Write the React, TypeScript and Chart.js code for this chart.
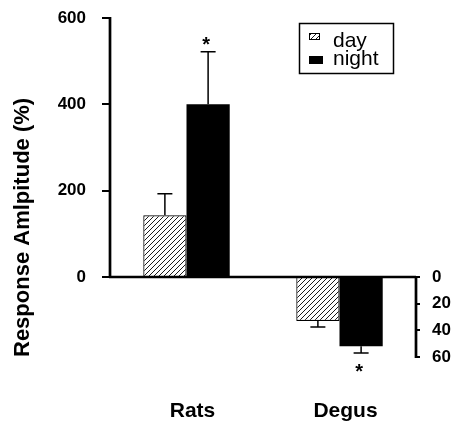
import React, { useEffect, useRef } from "react";
import { Chart, registerables } from "chart.js";

Chart.register(...registerables);

// ---- data ----
const categories = ["Rats", "Degus"];
const seriesNames = ["day", "night"];
const ratsMeans = [143, 400];
const ratsErrors = [50, 122];
const degusMeans = [33, 52];
const degusErrors = [4.5, 5];
const ratsSignificant = [false, true];
const degusSignificant = [false, true];
const leftTicks = [0, 200, 400, 600];
const rightTicks = [0, 20, 40, 60];
const leftMax = 600;
const leftMin = -185.3;
const rightMax = 60;
const yTitle = "Response Amlpitude (%)";

const FONT = "'Liberation Sans', Arial, Helvetica, sans-serif";

function makeHatch(ctx: CanvasRenderingContext2D) {
  const c = document.createElement("canvas");
  c.width = 5;
  c.height = 5;
  const g = c.getContext("2d")!;
  g.fillStyle = "#fff";
  g.fillRect(0, 0, 5, 5);
  g.strokeStyle = "#000";
  g.lineWidth = 0.9;
  g.beginPath();
  g.moveTo(-1, 6);
  g.lineTo(6, -1);
  g.moveTo(-1, 1);
  g.lineTo(1, -1);
  g.moveTo(4, 6);
  g.lineTo(6, 4);
  g.stroke();
  return ctx.createPattern(c, "repeat")!;
}

export default function App() {
  const ref = useRef<HTMLCanvasElement | null>(null);

  useEffect(() => {
    document.body.style.margin = "0";
    const canvas = ref.current!;
    const ctx = canvas.getContext("2d")!;
    const hatch = makeHatch(ctx);
    const rightMin = (rightMax * leftMax) / leftMin;

    const dayStyle = { backgroundColor: hatch, borderColor: "#000", borderWidth: 1.2 };
    const nightStyle = { backgroundColor: "#000", borderColor: "#000", borderWidth: 0 };

    const datasets: any[] = [
      { label: seriesNames[0], data: [ratsMeans[0], null], yAxisID: "y", errors: [ratsErrors[0], null], sig: [ratsSignificant[0], false], ...dayStyle },
      { label: seriesNames[1], data: [ratsMeans[1], null], yAxisID: "y", errors: [ratsErrors[1], null], sig: [ratsSignificant[1], false], ...nightStyle },
      { label: seriesNames[0], data: [null, degusMeans[0]], yAxisID: "y2", errors: [null, degusErrors[0]], sig: [false, degusSignificant[0]], ...dayStyle },
      { label: seriesNames[1], data: [null, degusMeans[1]], yAxisID: "y2", errors: [null, degusErrors[1]], sig: [false, degusSignificant[1]], ...nightStyle },
    ];

    const extras = {
      id: "extras",
      afterDatasetsDraw(chart: any) {
        const c = chart.ctx as CanvasRenderingContext2D;
        const area = chart.chartArea;
        const y = chart.scales.y;
        const y2 = chart.scales.y2;
        c.save();
        // error bars + significance
        chart.data.datasets.forEach((ds: any, i: number) => {
          const meta = chart.getDatasetMeta(i);
          const scale = chart.scales[ds.yAxisID];
          ds.data.forEach((v: number | null, j: number) => {
            if (v === null || v === undefined) return;
            const err = ds.errors[j];
            const bar = meta.data[j];
            const x = bar.x;
            const y0 = scale.getPixelForValue(v);
            const y1 = scale.getPixelForValue(v + err);
            c.strokeStyle = "#000";
            c.lineWidth = 1.5;
            c.beginPath();
            c.moveTo(x, y0);
            c.lineTo(x, y1);
            c.moveTo(x - 7.5, y1);
            c.lineTo(x + 7.5, y1);
            c.stroke();
            if (ds.sig[j]) {
              const dir = y1 < y0 ? -1 : 1;
              const center = y1 + dir * (dir < 0 ? 12 : 14);
              c.fillStyle = "#000";
              c.font = `bold 20px ${FONT}`;
              c.textAlign = "center";
              c.textBaseline = "alphabetic";
              c.fillText("*", x - 2, center + 11);
            }
          });
        });
        // axis lines
        c.strokeStyle = "#000";
        c.lineWidth = 2.7;
        c.beginPath();
        const yTop = y.getPixelForValue(leftMax);
        const yZero = y.getPixelForValue(0);
        c.moveTo(area.left, yTop - 1);
        c.lineTo(area.left, yZero);
        c.moveTo(area.left - 1, yZero);
        c.lineTo(area.right, yZero);
        c.moveTo(area.right, y2.getPixelForValue(0));
        c.lineTo(area.right, y2.getPixelForValue(rightMax) + 1);
        c.stroke();

        // legend
        const lx = 299.5, ly = 23.5, lw = 94, lh = 50;
        c.lineWidth = 1.5;
        c.strokeRect(lx, ly, lw, lh);
        c.fillStyle = hatch;
        c.fillRect(309, 33, 11, 7);
        c.lineWidth = 1;
        c.strokeRect(309.5, 33.5, 10, 6);
        c.fillStyle = "#000";
        c.fillRect(309, 56, 14, 8);
        c.font = `21px ${FONT}`;
        c.textAlign = "left";
        c.textBaseline = "alphabetic";
        c.fillText(seriesNames[0], 333, 47);
        c.fillText(seriesNames[1], 333, 65);
        c.restore();
      },
    };

    const tickFont = { family: FONT, size: 17, weight: "bold" as const };

    const chart = new Chart(ctx, {
      type: "bar",
      data: { labels: categories, datasets },
      options: {
        responsive: false,
        animation: false,
        devicePixelRatio: 1,
        layout: { padding: { top: 18, left: 0, right: 0, bottom: 0 } },
        plugins: { legend: { display: false }, tooltip: { enabled: false } },
        datasets: { bar: { skipNull: true, categoryPercentage: 0.565, barPercentage: 1 } } as any,
        scales: {
          x: {
            type: "category",
            grid: { display: false, drawTicks: false },
            border: { display: false },
            ticks: { color: "#000", padding: 42, labelOffset: 6, font: { family: FONT, size: 21, weight: "bold" } },
            afterFit: (s: any) => { s.height = 65; s.paddingLeft = 0; s.paddingRight = 0; },
          },
          y: {
            type: "linear",
            position: "left",
            min: leftMin,
            max: leftMax,
            afterBuildTicks: (s: any) => { s.ticks = leftTicks.map((v) => ({ value: v })); },
            grid: { drawOnChartArea: false, drawTicks: true, tickLength: 8, color: "#000", lineWidth: 2 },
            border: { display: false },
            ticks: { color: "#000", padding: 16, font: tickFont },
            title: {
              display: true,
              text: yTitle,
              align: "start",
              color: "#000",
              font: { family: FONT, size: 22, weight: "bold" },
              padding: { top: 10, bottom: 0 },
            },
            afterFit: (s: any) => { s.width = 110; s.paddingTop = 0; s.paddingBottom = 0; },
          },
          y2: {
            type: "linear",
            position: "right",
            reverse: true,
            min: rightMin,
            max: rightMax,
            afterBuildTicks: (s: any) => { s.ticks = rightTicks.map((v) => ({ value: v })); },
            grid: { drawOnChartArea: false, drawTicks: true, tickLength: 4, color: "#000", lineWidth: 2 },
            border: { display: false },
            ticks: { color: "#000", padding: 12, font: tickFont },
            afterFit: (s: any) => { s.width = 37; s.paddingTop = 0; s.paddingBottom = 0; },
          },
        },
      },
      plugins: [extras],
    });
    return () => chart.destroy();
  }, []);

  return (
    <div style={{ position: "fixed", left: 0, top: 0, width: 453, height: 422, background: "#fff" }}>
      <canvas ref={ref} width={453} height={422} />
    </div>
  );
}
